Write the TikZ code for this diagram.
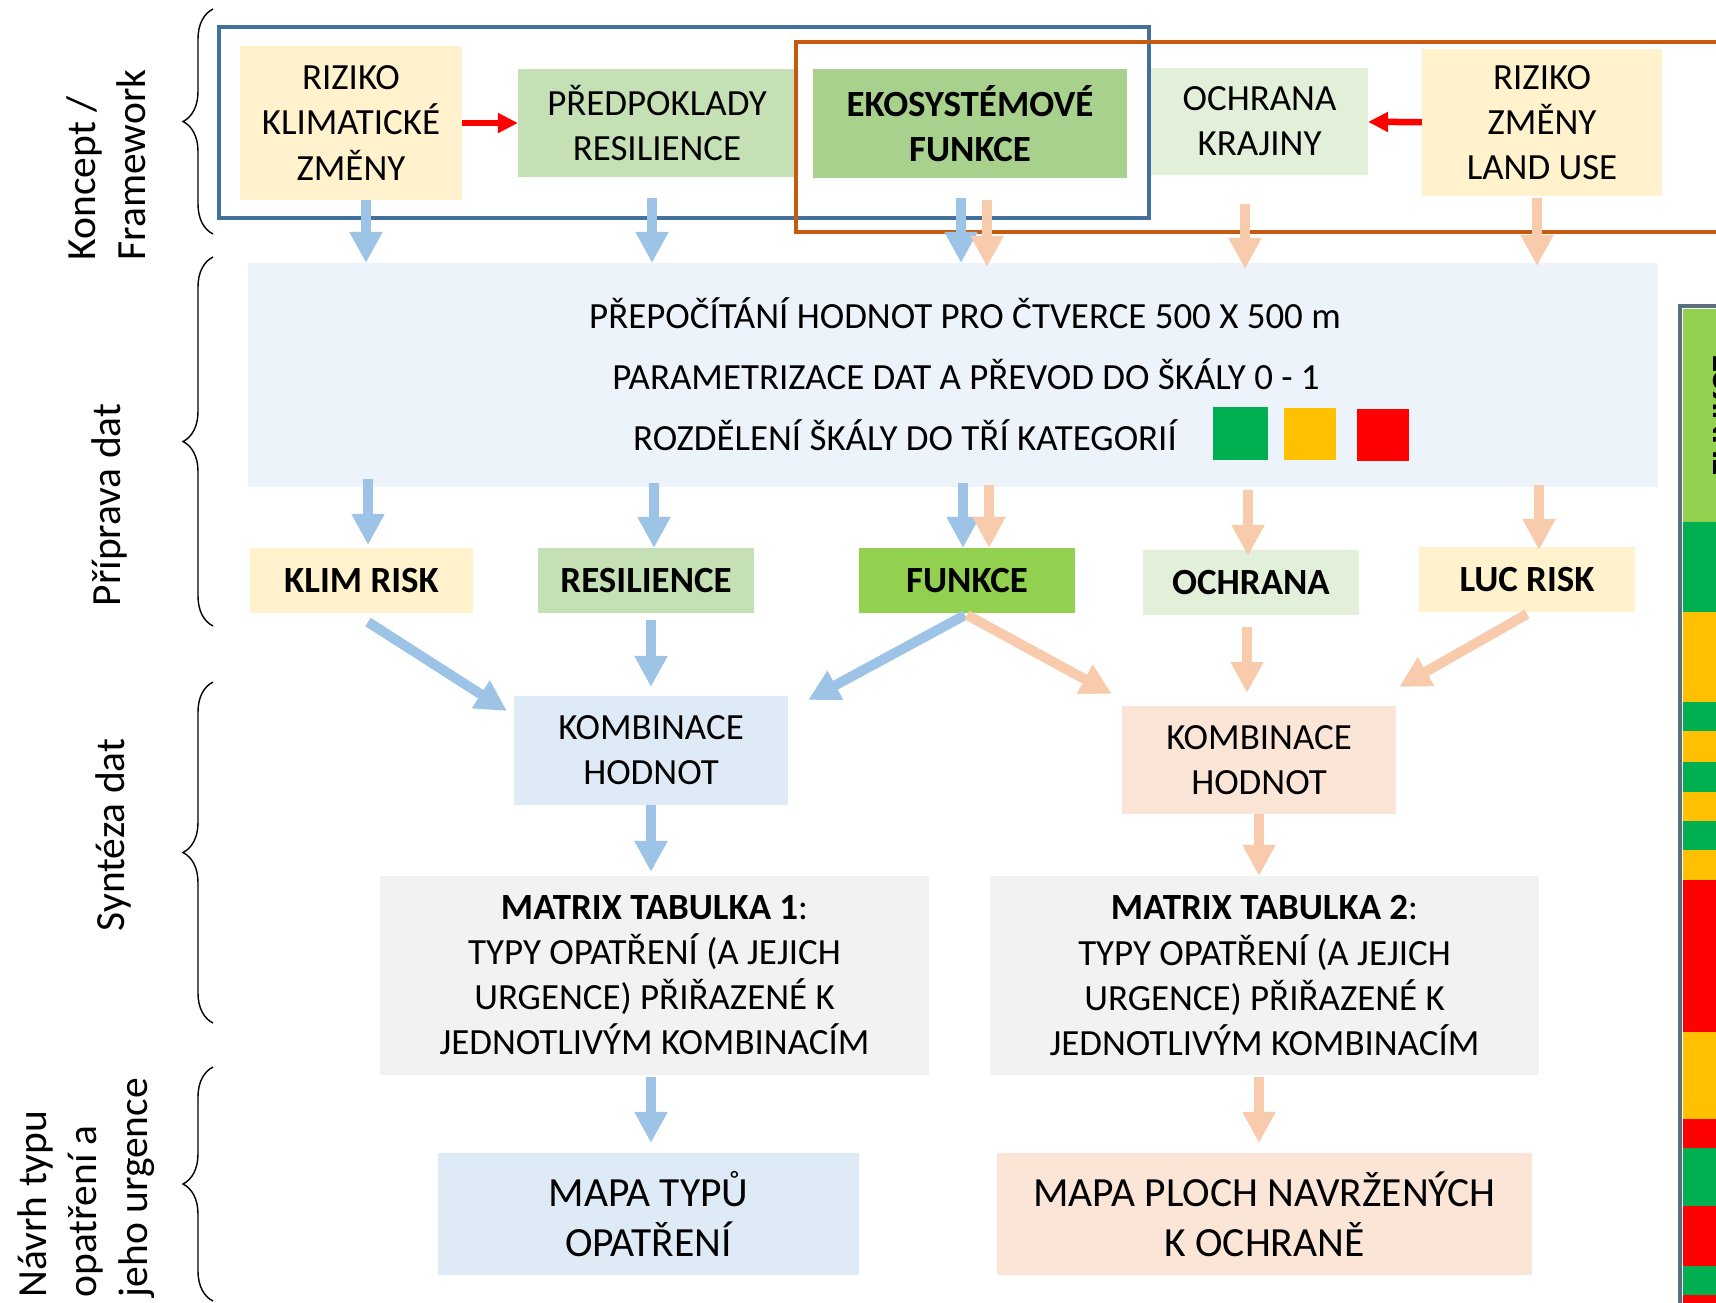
\documentclass[tikz,border=0pt]{standalone}
\usepackage{fontspec}
\setmainfont{Carlito}
\usetikzlibrary{arrows.meta,decorations.pathreplacing}
\definecolor{nyellow}{HTML}{FFF2CC}
\definecolor{ngreenl}{HTML}{C5E0B4}
\definecolor{ngreenm}{HTML}{A9D18E}
\definecolor{ngreenp}{HTML}{E2F0D9}
\definecolor{ngreenf}{HTML}{92D050}
\definecolor{npanel}{HTML}{EDF3FB}
\definecolor{nlblue}{HTML}{DEEBF7}
\definecolor{npeach}{HTML}{FBE5D6}
\definecolor{ngray}{HTML}{F2F2F2}
\definecolor{arblue}{HTML}{9DC3E6}
\definecolor{arorange}{HTML}{F8CBAD}
\definecolor{frblue}{HTML}{41719C}
\definecolor{frorange}{HTML}{C55A11}
\definecolor{sgreen}{HTML}{00B050}
\definecolor{syellow}{HTML}{FFC000}
\definecolor{barline}{HTML}{5A6E7E}
\newcommand{\bigtxt}{\fontsize{11.8}{14.3}\selectfont}

\begin{document}
\begin{tikzpicture}[x=0.01cm,y=-0.01cm,font=\fontsize{10.5}{12.8}\selectfont]
    \tikzstyle{box}=[rectangle,inner sep=0,outer sep=0,align=center]
    \tikzstyle{bold}=[font=\fontsize{10.5}{12.8}\selectfont\bfseries]
    \tikzstyle{barrow}=[draw=arblue,line width=0.1cm,-{Triangle[length=0.31cm,width=0.31cm]}]
    \tikzstyle{oarrow}=[barrow,draw=arorange]
    \tikzstyle{rarrow}=[draw=red,line width=0.065cm,-{Triangle[length=0.2cm,width=0.19cm]}]
    \tikzstyle{lab}=[rotate=90,align=left,inner sep=0,font=\bigtxt]
    \tikzstyle{brc}=[decorate,decoration={brace,amplitude=0.3cm},line width=0.4pt]
    \useasboundingbox (0,0) rectangle (1716,1302);
    \clip (0,0) rectangle (1716,1302);

    % koncept / framework
    \node[box,fill=nyellow,minimum width=2.22cm,minimum height=1.54cm] (rkz) at (351,123) {RIZIKO\\KLIMATICKÉ\\ZMĚNY};
    \node[box,fill=ngreenl,minimum width=2.78cm,minimum height=1.08cm] (pred) at (657,123) {PŘEDPOKLADY\\RESILIENCE};
    \node[box,bold,fill=ngreenm,minimum width=3.14cm,minimum height=1.09cm] (ekf) at (970,123.5) {EKOSYSTÉMOVÉ\\FUNKCE};
    \node[box,fill=ngreenp,minimum width=2.17cm,minimum height=1.07cm] (ochr) at (1259.5,121.5) {OCHRANA\\KRAJINY};
    \node[box,fill=nyellow,minimum width=2.40cm,minimum height=1.47cm] (rzlu) at (1542,122.5) {RIZIKO\\ZMĚNY\\LAND USE};
    \draw[frblue,line width=0.035cm] (219,27) rectangle (1149,218);
    \draw[frorange,line width=0.035cm] (796,42) rectangle (1760,232);
    \draw (rkz) -- (pred) [rarrow];
    \draw (rzlu) -- (ochr) [rarrow];

    % priprava dat
    \node[box,fill=npanel,minimum width=14.10cm,minimum height=2.24cm] (prep) at (953,375) {};
    \node (t1) at (965,313) {PŘEPOČÍTÁNÍ HODNOT PRO ČTVERCE 500 X 500 m};
    \node (t2) at (966,374) {PARAMETRIZACE DAT A PŘEVOD DO ŠKÁLY 0 - 1};
    \node (t3) at (905,435) {ROZDĚLENÍ ŠKÁLY DO TŘÍ KATEGORIÍ};
    \node[box,fill=sgreen,minimum width=0.55cm,minimum height=0.53cm] (sqg) at (1240.5,433.5) {};
    \node[box,fill=syellow,minimum width=0.52cm,minimum height=0.52cm] (sqy) at (1310,434) {};
    \node[box,fill=red,minimum width=0.52cm,minimum height=0.52cm] (sqr) at (1383,435) {};

    \node[box,bold,fill=nyellow,minimum width=2.23cm,minimum height=0.65cm] (klim) at (361.5,580.5) {KLIM RISK};
    \node[box,bold,fill=ngreenl,minimum width=2.16cm,minimum height=0.65cm] (res) at (646,580.5) {RESILIENCE};
    \node[box,bold,fill=ngreenf,minimum width=2.16cm,minimum height=0.65cm] (fun) at (967,580.5) {FUNKCE};
    \node[box,bold,fill=ngreenp,minimum width=2.16cm,minimum height=0.65cm] (och) at (1251,582.5) {OCHRANA};
    \node[box,bold,fill=nyellow,minimum width=2.16cm,minimum height=0.65cm] (luc) at (1527,579.5) {LUC RISK};

    \draw ([xshift=0.15cm]rkz.south) -- ([xshift=0.15cm]rkz.south |- prep.north) [barrow];
    \draw ([xshift=-0.05cm]pred.south) -- ([xshift=-0.05cm]pred.south |- prep.north) [barrow,shorten <=0.21cm];
    \draw ([xshift=-0.09cm]ekf.south) -- ([xshift=-0.09cm]ekf.south |- prep.north) [barrow,shorten <=0.2cm];
    \draw ([xshift=0.17cm]ekf.south) -- ([xshift=0.17cm]ekf.south |- prep.north) [oarrow,shorten <=0.22cm,shorten >=-0.04cm];
    \draw ([xshift=-0.145cm]ochr.south) -- ([xshift=-0.145cm]ochr.south |- prep.north) [oarrow,shorten <=0.29cm,shorten >=-0.06cm];
    \draw ([xshift=-0.05cm]rzlu.south) -- ([xshift=-0.05cm]rzlu.south |- prep.north) [oarrow,shorten <=0.02cm,shorten >=-0.03cm];

    \draw ([xshift=0.065cm]klim.north |- prep.south) -- ([xshift=0.065cm]klim.north) [barrow,shorten <=-0.08cm,shorten >=0.03cm];
    \draw ([xshift=0.08cm]res.north |- prep.south) -- ([xshift=0.08cm]res.north) [barrow,shorten <=-0.04cm];
    \draw ([xshift=-0.04cm]fun.north |- prep.south) -- ([xshift=-0.04cm]fun.north) [barrow,shorten <=-0.04cm];
    \draw ([xshift=0.22cm]fun.north |- prep.south) -- ([xshift=0.22cm]fun.north) [oarrow,shorten <=-0.02cm];
    \draw ([xshift=-0.03cm]och.north |- prep.south) -- ([xshift=-0.03cm]och.north) [oarrow,shorten <=0.03cm,shorten >=-0.06cm];
    \draw ([xshift=0.12cm]luc.north |- prep.south) -- ([xshift=0.12cm]luc.north) [oarrow,shorten <=-0.02cm,shorten >=-0.03cm];

    % synteza dat
    \node[box,fill=nlblue,minimum width=2.74cm,minimum height=1.09cm] (kb1) at (651,750.5) {KOMBINACE\\HODNOT};
    \node[box,fill=npeach,minimum width=2.74cm,minimum height=1.08cm] (kb2) at (1259,760) {KOMBINACE\\HODNOT};
    \node[box,fill=ngray,minimum width=5.49cm,minimum height=1.99cm] (mt1) at (654.5,975.5) {{\bfseries MATRIX TABULKA 1}:\\TYPY OPATŘENÍ (A JEJICH\\URGENCE) PŘIŘAZENÉ K\\JEDNOTLIVÝM KOMBINACÍM};
    \node[box,fill=ngray,minimum width=5.49cm,minimum height=1.99cm] (mt2) at (1264.5,975.5) {{\bfseries MATRIX TABULKA 2}:\\TYPY OPATŘENÍ (A JEJICH\\URGENCE) PŘIŘAZENÉ K\\JEDNOTLIVÝM KOMBINACÍM};

    \draw ([shift={(0.065cm,-0.09cm)}]klim.south) -- ([shift={(-0.07cm,-0.15cm)}]kb1.north west) [barrow];
    \draw (res.south -| kb1.north) -- (kb1.north) [barrow,shorten <=0.07cm,shorten >=0.09cm];
    \draw ([shift={(-0.02cm,-0.02cm)}]fun.south) -- ([shift={(0.2cm,-0.04cm)}]kb1.north east) [barrow];
    \draw ([yshift=-0.02cm]fun.south) -- ([shift={(-0.1cm,0.12cm)}]kb2.north west) [oarrow];
    \draw ([xshift=-0.04cm]och.south) -- ([xshift=-0.04cm]och.south |- kb2.north) [oarrow,shorten <=0.12cm,shorten >=0.13cm];
    \draw ([yshift=-0.02cm]luc.south) -- ([shift={(0.03cm,0.19cm)}]kb2.north east) [oarrow];
    \draw (kb1.south) -- (kb1.south |- mt1.north) [barrow,shorten >=0.04cm];
    \draw (kb2.south) -- (kb2.south |- mt2.north) [oarrow];

    % navrh typu opatreni
    \node[box,font=\bigtxt,fill=nlblue,minimum width=4.21cm,minimum height=1.22cm] (mp1) at (648.5,1214) {MAPA TYPŮ\\OPATŘENÍ};
    \node[box,font=\bigtxt,fill=npeach,minimum width=5.35cm,minimum height=1.22cm] (mp2) at (1264.5,1214) {MAPA PLOCH NAVRŽENÝCH\\K OCHRANĚ};
    \draw ([xshift=0.025cm]mp1.north |- mt1.south) -- ([xshift=0.025cm]mp1.north) [barrow,shorten <=0.02cm,shorten >=0.1cm];
    \draw ([xshift=-0.055cm]mp2.north |- mt2.south) -- ([xshift=-0.055cm]mp2.north) [oarrow,shorten <=0.02cm,shorten >=0.1cm];

    % left labels and braces
    \node[lab,anchor=west] (lkon) at (106,261) {Koncept /\\Framework};
    \node[lab] (lpri) at (109,505) {Příprava dat};
    \node[lab] (lsyn) at (113,835) {Syntéza dat};
    \node[lab,anchor=west] (lnav) at (86,1298) {Návrh typu\\opatření a\\jeho urgence};
    \draw[brc] (213,234) -- (213,9);
    \draw[brc] (213,626) -- (213,257);
    \draw[brc] (213,1023) -- (213,682);
    \draw[brc] (213,1301) -- (213,1067);

    % cut-off bar at the right
    \fill[ngreenf] (1683,309) rectangle (1760,522);
    \foreach \ya/\yb/\c in {522/612/sgreen,612/702/syellow,702/731/sgreen,731/762/syellow,762/792/sgreen,792/821/syellow,821/850/sgreen,850/880/syellow,880/1032/red,1032/1119/syellow,1119/1148/red,1148/1206/sgreen,1206/1266/red,1266/1295/sgreen,1295/1320/red}
        \fill[\c] (1683,\ya) rectangle (1760,\yb);
    \draw[barline,line width=0.04cm] (1760,306) -| (1680,1320);
    \node[bold,rotate=90] (barlbl) at (1725,416) {FUNKCE};
\end{tikzpicture}
\end{document}
